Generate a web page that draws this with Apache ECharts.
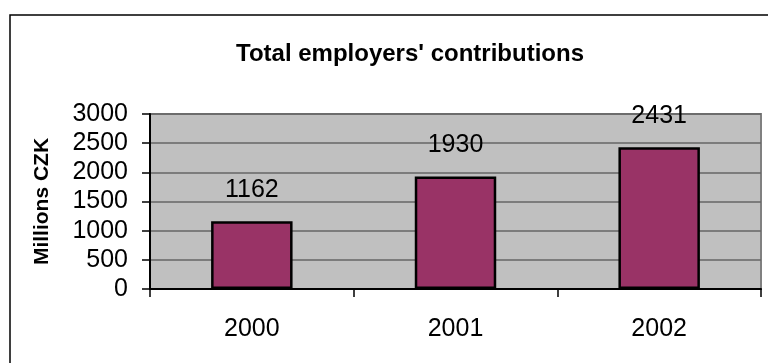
<!DOCTYPE html>
<html>
<head>
<meta charset="utf-8">
<script src="https://cdn.jsdelivr.net/npm/echarts@6/dist/echarts.min.js"></script>
<style>
  html, body { margin: 0; padding: 0; background: #fff; }
  #chart { width: 768px; height: 363px; }
</style>
</head>
<body>
<div id="chart"></div>
<script>
// values
const years = ['2000', '2001', '2002']
const contributions = [1162, 1930, 2431]
const yTicks = { min: 0, max: 3000, step: 500 }

const font = "'Liberation Sans', Arial, sans-serif"
const chart = echarts.init(document.getElementById('chart'))

const option = {
  backgroundColor: '#ffffff',
  animation: false,
  title: {
    text: "Total employers' contributions",
    left: 405,
    top: 37,
    textAlign: 'center',
    textStyle: { fontFamily: font, fontSize: 24, fontWeight: 'bold', color: '#000' }
  },
  graphic: [{
    type: 'rect',
    shape: { x: 10, y: 15, width: 900, height: 500 },
    style: { fill: 'none', stroke: '#000', lineWidth: 1.5 },
    silent: true
  }],
  grid: {
    left: 150, top: 114, right: 7, bottom: 74,
    show: true,
    backgroundColor: '#c0c0c0',
    borderColor: '#808080',
    borderWidth: 2
  },
  xAxis: {
    type: 'category',
    data: years,
    axisLine: { lineStyle: { color: '#000', width: 2 } },
    axisTick: { show: true, length: 8, lineStyle: { color: '#000', width: 1.5 } },
    axisLabel: { margin: 28, fontFamily: font, fontSize: 25, color: '#000' }
  },
  yAxis: {
    type: 'value',
    min: yTicks.min,
    max: yTicks.max,
    interval: yTicks.step,
    name: 'Millions CZK',
    nameLocation: 'middle',
    nameGap: 97,
    nameTextStyle: { fontFamily: font, fontSize: 21, fontWeight: 'bold', color: '#000' },
    axisLine: { show: true, lineStyle: { color: '#000', width: 2 } },
    axisTick: { show: true, length: 8, lineStyle: { color: '#000', width: 1.5 } },
    axisLabel: {
      margin: 22, fontFamily: font, fontSize: 25, color: '#000',
      formatter: v => String(v)
    },
    splitLine: { lineStyle: { color: '#666', width: 1.5 } }
  },
  series: [{
    type: 'bar',
    data: contributions,
    barWidth: '40%',
    itemStyle: { color: '#993366', borderColor: '#000', borderWidth: 2.5 },
    label: {
      show: true,
      position: 'top',
      distance: 19,
      fontFamily: font,
      fontSize: 25,
      color: '#000'
    }
  }]
}

chart.setOption(option)
</script>
</body>
</html>
